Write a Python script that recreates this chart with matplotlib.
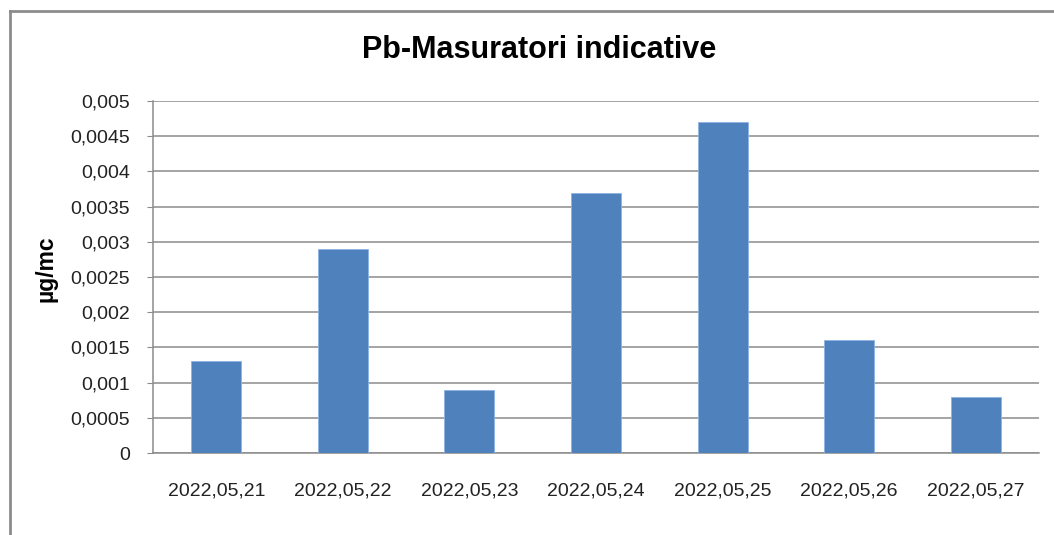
import matplotlib
matplotlib.use("Agg")
import matplotlib.pyplot as plt
from matplotlib.lines import Line2D

categories = ["2022,05,21", "2022,05,22", "2022,05,23", "2022,05,24",
              "2022,05,25", "2022,05,26", "2022,05,27"]
values = [0.0013, 0.0029, 0.0009, 0.0037, 0.0047, 0.0016, 0.0008]
yticks = [0, 0.0005, 0.001, 0.0015, 0.002, 0.0025, 0.003, 0.0035, 0.004, 0.0045, 0.005]
ytick_labels = ["0", "0,0005", "0,001", "0,0015", "0,002", "0,0025", "0,003",
                "0,0035", "0,004", "0,0045", "0,005"]
title = "Pb-Masuratori indicative"
ylabel = "µg/mc"

plt.rcParams['font.family'] = ['Liberation Sans', 'DejaVu Sans']

W, H = 1054, 535
fig = plt.figure(figsize=(W/100, H/100), dpi=100)
fig.patch.set_facecolor("white")

# outer frame (only left and top visible)
fig.add_artist(Line2D([9.5/W, 9.5/W], [0, 1 - 11/H], color="#8c8c8c", lw=2, transform=fig.transFigure))
fig.add_artist(Line2D([9.5/W, 1.0], [1 - 11/H, 1 - 11/H], color="#8c8c8c", lw=2, transform=fig.transFigure))

ax = fig.add_axes([153/W, 1 - 453/H, (1039 - 153)/W, (453 - 101)/H])
x = list(range(len(categories)))
ax.bar(x, values, width=0.395, color="#4F81BD", edgecolor="#8EB4E3", linewidth=0.6, zorder=3)
ax.set_xlim(-0.5, len(categories) - 0.5)
ax.set_ylim(0, 0.005)
ax.set_yticks(yticks)
ax.set_yticklabels(ytick_labels)
ax.set_xticks(x)
ax.set_xticklabels(categories)
ax.grid(axis="y", color="#8c8c8c", lw=1.1, zorder=0)
for s in ["top", "right"]:
    ax.spines[s].set_visible(False)
ax.spines["left"].set_color("#8c8c8c")
ax.spines["bottom"].set_color("#8c8c8c")
ax.spines["left"].set_linewidth(1.1)
ax.spines["bottom"].set_linewidth(1.1)
ax.tick_params(axis="y", length=4.5, color="#8c8c8c", labelsize=14, pad=12, labelcolor="#222222")
ax.tick_params(axis="x", length=0, labelsize=14, pad=21, labelcolor="#222222")

fig.text(539/W, 1 - 50/H, title, ha="center", va="center", fontsize=22, fontweight="bold")
fig.text(46/W, 1 - 269/H, ylabel, ha="center", va="center", rotation=90, fontsize=16.5, fontweight="bold")

fig.savefig("out.png", dpi=100)
